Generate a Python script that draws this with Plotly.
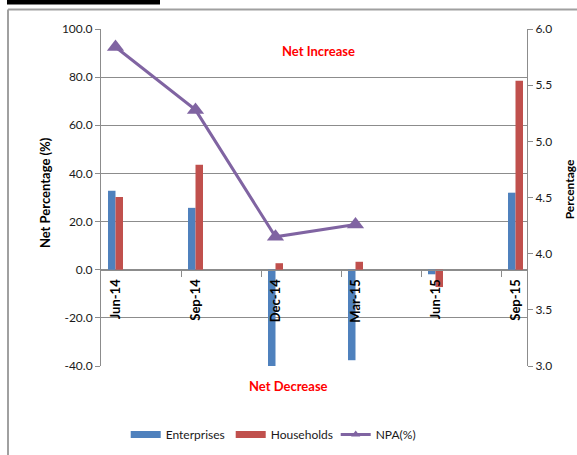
import plotly.graph_objects as go

# Quarterly data
quarters = ["Jun-14", "Sep-14", "Dec-14", "Mar-15", "Jun-15", "Sep-15"]
enterprises = [32.8, 25.7, -40.0, -37.6, -1.9, 32.0]
households = [30.2, 43.6, 2.7, 3.3, -7.2, 78.5]
npa = [5.84, 5.28, 4.15, 4.26, None, None]

left_ticks = [-40, -20, 0, 20, 40, 60, 80, 100]
left_tick_text = ["-40.0", "-20.0", "0.0", "20.0", "40.0", "60.0", "80.0", "100.0"]
right_ticks = [3.0, 3.5, 4.0, 4.5, 5.0, 5.5, 6.0]
right_tick_text = ["3.0", "3.5", "4.0", "4.5", "5.0", "5.5", "6.0"]

BLUE = "#4F81BD"
RED = "#C0504D"
PURPLE = "#8064A2"
GRID = "#8C8C8C"
FONT = "Lato"

x = list(range(len(quarters)))
x_lo, x_hi = -0.18125, 5.14375
boundaries = [i + x_lo for i in range(1, len(quarters))]
y_lo, y_hi = -40, 100
zero_pos = (0 - y_lo) / (y_hi - y_lo)  # where the category axis crosses

fig = go.Figure()

fig.add_trace(go.Bar(x=x, y=enterprises, name="Enterprises", marker_color=BLUE,
                     marker_line_width=0, showlegend=False))
fig.add_trace(go.Bar(x=x, y=households, name="Households", marker_color=RED,
                     marker_line_width=0, showlegend=False))
fig.add_trace(go.Scatter(x=x, y=npa, name="NPA(%)", yaxis="y2", mode="lines+markers",
                         line=dict(color=PURPLE, width=3),
                         marker=dict(symbol="triangle-up", size=15, color=PURPLE),
                         showlegend=False))

# legend entries
fig.add_trace(go.Scatter(x=[None], y=[None], name="Enterprises", mode="lines",
                         line=dict(color=BLUE, width=7)))
fig.add_trace(go.Scatter(x=[None], y=[None], name="Households", mode="lines",
                         line=dict(color=RED, width=7)))
fig.add_trace(go.Scatter(x=[None], y=[None], name="NPA(%)", mode="lines+markers",
                         line=dict(color=PURPLE, width=3),
                         marker=dict(symbol="triangle-up", size=8, color=PURPLE)))

# carrier for the tick-mark axis
fig.add_trace(go.Scatter(x=[None], y=[None], xaxis="x2", showlegend=False,
                         hoverinfo="skip"))

fig.update_layout(
    width=577, height=455,
    margin=dict(l=101, r=50, t=29, b=89, autoexpand=False),
    paper_bgcolor="white", plot_bgcolor="white",
    barmode="group", bargap=0.8125, bargroupgap=0,
    font=dict(family=FONT, size=12, color="#1a1a1a"),
    xaxis=dict(range=[x_lo, x_hi], tickvals=x,
               ticktext=[f"<b>{q}</b>" for q in quarters], tickangle=-90,
               ticks="", showgrid=False, zeroline=False, showline=False,
               anchor="free", position=zero_pos, side="bottom", automargin=False,
               tickfont=dict(family=FONT, size=13, color="#000"),
               ticklabelstandoff=6),
    xaxis2=dict(range=[x_lo, x_hi], overlaying="x", tickvals=boundaries,
                ticks="outside", ticklen=6, tickcolor=GRID, showticklabels=False,
                showgrid=False, zeroline=False, showline=True, linecolor=GRID,
                anchor="free", position=zero_pos, side="bottom", automargin=False),
    yaxis=dict(range=[y_lo, y_hi], tickvals=left_ticks, ticktext=left_tick_text,
               showgrid=True, gridcolor=GRID, gridwidth=1, zeroline=False,
               showline=True, linecolor=GRID, ticks="outside", ticklen=5,
               tickcolor=GRID, automargin=False,
               tickfont=dict(family=FONT, size=12, color="#1a1a1a")),
    yaxis2=dict(range=[3, 6], tickvals=right_ticks, ticktext=right_tick_text,
                overlaying="y", side="right", showgrid=False, zeroline=False,
                showline=True, linecolor=GRID, ticks="outside", ticklen=5,
                tickcolor=GRID, automargin=False,
                tickfont=dict(family=FONT, size=12, color="#1a1a1a")),
    legend=dict(orientation="h", x=0.058, y=-0.16, xanchor="left", yanchor="top",
                font=dict(family=FONT, size=12, color="#1a1a1a"),
                bgcolor="rgba(0,0,0,0)", entrywidth=60, tracegroupgap=0),
    showlegend=True,
)

# axis titles
fig.add_annotation(text="<b>Net Percentage (%)</b>", xref="paper", yref="paper",
                   x=-0.1315, y=0.516, textangle=-90, showarrow=False,
                   xanchor="center", yanchor="middle",
                   font=dict(family=FONT, size=13, color="#000"))
fig.add_annotation(text="<b>Percentage</b>", xref="paper", yref="paper",
                   x=1.1, y=0.523, textangle=-90, showarrow=False,
                   xanchor="center", yanchor="middle",
                   font=dict(family=FONT, size=12, color="#000"))

# region notes
fig.add_annotation(text="<b>Net Increase</b>", xref="paper", yref="paper",
                   x=0.5094, y=0.9347, showarrow=False,
                   xanchor="center", yanchor="middle",
                   font=dict(family=FONT, size=13, color="#FF0000"))
fig.add_annotation(text="<b>Net Decrease</b>", xref="paper", yref="paper",
                   x=0.4413, y=-0.0593, showarrow=False,
                   xanchor="center", yanchor="middle",
                   font=dict(family=FONT, size=13, color="#FF0000"))

# outer frame and header rule
fig.add_shape(type="line", xref="paper", yref="paper", x0=-0.2183, x1=-0.2183,
              y0=-0.3, y1=1.0579, line=dict(color="#A0A0A0", width=2))
fig.add_shape(type="line", xref="paper", yref="paper", x0=-0.2183, x1=1.2,
              y0=1.0579, y1=1.0579, line=dict(color="#A0A0A0", width=2))
fig.add_shape(type="rect", xref="paper", yref="paper", x0=-0.2207, x1=0.1385,
              y0=1.0727, y1=1.09, fillcolor="#000", line=dict(width=0))

fig.write_html("out.html")
